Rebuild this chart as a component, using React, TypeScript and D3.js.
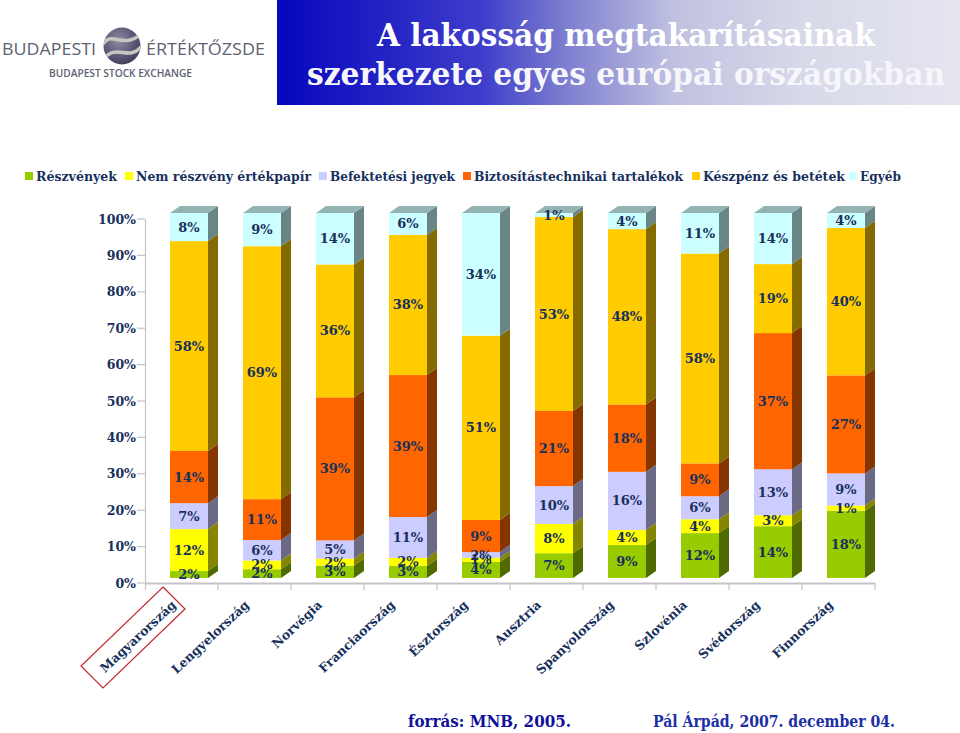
import React from "react";
import * as d3 from "d3";

const countries = ["Magyarország","Lengyelország","Norvégia","Franciaország","Észtország","Ausztria","Spanyolország","Szlovénia","Svédország","Finnország"];
const seriesNames = ["Részvények","Nem részvény értékpapír","Befektetési jegyek","Biztosítástechnikai tartalékok","Készpénz és betétek","Egyéb"];
const reszvenyek = [1.9,2.4,3.4,3.3,4.4,6.8,9.0,12.3,14.2,18.4];
const nemReszveny = [11.5,2.4,1.9,2.2,1.1,8.0,4.1,3.8,3.0,1.4];
const befektetesi = [7.1,5.6,5.0,11.2,1.6,10.4,15.9,6.3,12.6,8.8];
const biztositas = [14.3,11.2,39.2,38.9,8.8,20.6,18.4,9.0,37.3,26.8];
const keszpenz = [57.5,69.3,36.4,38.4,50.5,53.2,47.9,57.5,18.9,40.3];
const egyeb = [7.7,9.1,14.1,6.0,33.6,1.1,4.4,11.1,14.0,4.1];
const allSeries = [reszvenyek,nemReszveny,befektetesi,biztositas,keszpenz,egyeb];
const colors = ["#99CC00","#FFFF00","#CCCCFF","#FF6600","#FFCC00","#CCFFFF"];
const sideColors = ["#4f6a00","#858500","#6a6a85","#853500","#856a00","#6a8585"];
const topColor = "#94b3b3";
const axisTicks = d3.range(0,101,10);
const legendX = [25,125,319,463,692,849];
const legendW = [81,175,125,209,142,41];
const titleLines = ["A lakosság megtakarításainak","szerkezete egyes európai országokban"];

const INK = "#17305c";
const SERIF = "'DejaVu Serif', serif";
const BAR_W = 38, DX = 10, DY = 7, BAND_OFFSET = 25;

export default function App() {
  const xBand = d3.scaleBand().domain(countries).range([145,875]);
  const yAxis = d3.scaleLinear().domain([0,100]).range([583,219]);
  const yBar = d3.scaleLinear().domain([0,100]).range([578,213]);
  const stackData = countries.map((c,i)=>{
    let acc = 0;
    return allSeries.map((s,k)=>{ const y0=acc; acc+=s[i]; return {c,k,v:s[i],y0,y1:acc}; });
  });
  const norm = (stack:any[]) => { const t=stack[stack.length-1].y1; return stack.map(d=>({...d,y0:d.y0/t*100,y1:d.y1/t*100})); };
  const stacks = stackData.map(norm);
  const fmt = d3.format(".0f");
  return (
    <svg width={960} height={733} viewBox="0 0 960 733" style={{position:"absolute",left:0,top:0,background:"#fff"}}>
      <defs>
        <linearGradient id="tg" x1="0" x2="1" y1="0" y2="0">
          <stop offset="0" stopColor="#0606bd"/>
          <stop offset="0.3" stopColor="#3d3dcb"/>
          <stop offset="0.42" stopColor="#7c7dcf"/>
          <stop offset="0.58" stopColor="#c0c1e0"/>
          <stop offset="0.78" stopColor="#d9dae9"/>
          <stop offset="1" stopColor="#e4e5ef"/>
        </linearGradient>
        <radialGradient id="ball" cx="0.4" cy="0.35" r="0.75">
          <stop offset="0" stopColor="#8d8aa5"/>
          <stop offset="0.6" stopColor="#5a5775"/>
          <stop offset="1" stopColor="#3b3a50"/>
        </radialGradient>
        <clipPath id="ballClip"><circle cx={122} cy={46} r={18.5}/></clipPath>
      </defs>

      <text x={2} y={55} fontFamily="'Open Sans',sans-serif" fontSize={17} fill="#5d6270" textLength={94} lengthAdjust="spacingAndGlyphs">BUDAPESTI</text>
      <circle cx={122} cy={46} r={18.5} fill="url(#ball)"/>
      <g clipPath="url(#ballClip)" fill="none" stroke="#c9c6c2" strokeWidth={3.5}>
        <path d="M103 44 C112 30 122 50 141 34"/>
        <path d="M103 60 C116 42 128 62 141 47"/>
      </g>
      <text x={146} y={55} fontFamily="'Open Sans',sans-serif" fontSize={17} fill="#5d6270" textLength={119} lengthAdjust="spacingAndGlyphs">ÉRTÉKTŐZSDE</text>
      <text x={49} y={77} fontFamily="'Open Sans',sans-serif" fontSize={10} fontWeight={600} fill="#5d6270" textLength={143} lengthAdjust="spacingAndGlyphs">BUDAPEST STOCK EXCHANGE</text>

      <rect x={277} y={0} width={683} height={105} fill="url(#tg)"/>
      <text x={377} y={46} fontFamily={SERIF} fontWeight={700} fontSize={31} fill="#fff" textLength={498} lengthAdjust="spacingAndGlyphs">{titleLines[0]}</text>
      <text x={307} y={85} fontFamily={SERIF} fontWeight={700} fontSize={31} fill="#f6f6fb" textLength={638} lengthAdjust="spacingAndGlyphs">{titleLines[1]}</text>

      {seriesNames.map((n,i)=>(
        <g key={n}>
          <rect x={legendX[i]} y={172} width={8} height={8} fill={colors[i]}/>
          <text x={legendX[i]+11} y={181} fontFamily={SERIF} fontWeight={700} fontSize={13} fill={INK} textLength={legendW[i]} lengthAdjust="spacingAndGlyphs">{n}</text>
        </g>
      ))}

      <g stroke="#c4c4c8" fill="none">
        <line x1={145.5} x2={145.5} y1={219} y2={590} strokeWidth={1.2}/>
        <line x1={145} x2={875} y1={583.5} y2={583.5} strokeWidth={2}/>
        {axisTicks.map(t=><line key={t} x1={137} x2={145} y1={yAxis(t)} y2={yAxis(t)} strokeWidth={1.2}/>)}
        {countries.map(c=><line key={c} x1={xBand(c)!+xBand.bandwidth()} x2={xBand(c)!+xBand.bandwidth()} y1={583} y2={590} strokeWidth={1.2}/>)}
      </g>
      {axisTicks.map(t=>(
        <text key={t} x={136} y={yAxis(t)+4.5} textAnchor="end" fontFamily={SERIF} fontWeight={700} fontSize={12.5} fill={INK}>{t}%</text>
      ))}

      {stacks.map((stack,i)=>{
        const x = xBand(countries[i])!+BAND_OFFSET;
        return <g key={i}>
          {stack.map(d=>{
            const top=yBar(d.y1), bot=yBar(d.y0);
            return <g key={d.k}>
              <rect x={x} y={top} width={BAR_W} height={bot-top} fill={colors[d.k]}/>
              <path d={`M${x+BAR_W} ${top}L${x+BAR_W+DX} ${top-DY}L${x+BAR_W+DX} ${bot-DY}L${x+BAR_W} ${bot}Z`} fill={sideColors[d.k]}/>
            </g>;
          })}
          <path d={`M${x} ${yBar(100)}L${x+DX} ${yBar(100)-DY}L${x+BAR_W+DX} ${yBar(100)-DY}L${x+BAR_W} ${yBar(100)}Z`} fill={topColor}/>
        </g>;
      })}
      {stacks.map((stack,i)=>{
        const x = xBand(countries[i])!+BAND_OFFSET+BAR_W/2;
        return <g key={i}>{stack.map(d=>(
          <text key={d.k} x={x} y={(yBar(d.y0)+yBar(d.y1))/2+4.5} textAnchor="middle" fontFamily={SERIF} fontWeight={700} fontSize={13} fill={INK}>{fmt(d.v)}%</text>
        ))}</g>;
      })}

      {countries.map(c=>(
        <text key={c} transform={`translate(${xBand(c)!+xBand.bandwidth()-41},606) rotate(-43)`} textAnchor="end" fontFamily={SERIF} fontWeight={700} fontSize={12.5} fill={INK}>{c}</text>
      ))}
      <path d="M163 587L185 609L103 688L81 666Z" fill="none" stroke="#c0272d" strokeWidth={1.2}/>

      <text x={408} y={727} fontFamily={SERIF} fontWeight={700} fontSize={16} fill="#10109a" textLength={163} lengthAdjust="spacingAndGlyphs">forrás: MNB, 2005.</text>
      <text x={653} y={727} fontFamily={SERIF} fontWeight={700} fontSize={16} fill="#1c2fa5" textLength={242} lengthAdjust="spacingAndGlyphs">Pál Árpád, 2007. december 04.</text>
    </svg>
  );
}
